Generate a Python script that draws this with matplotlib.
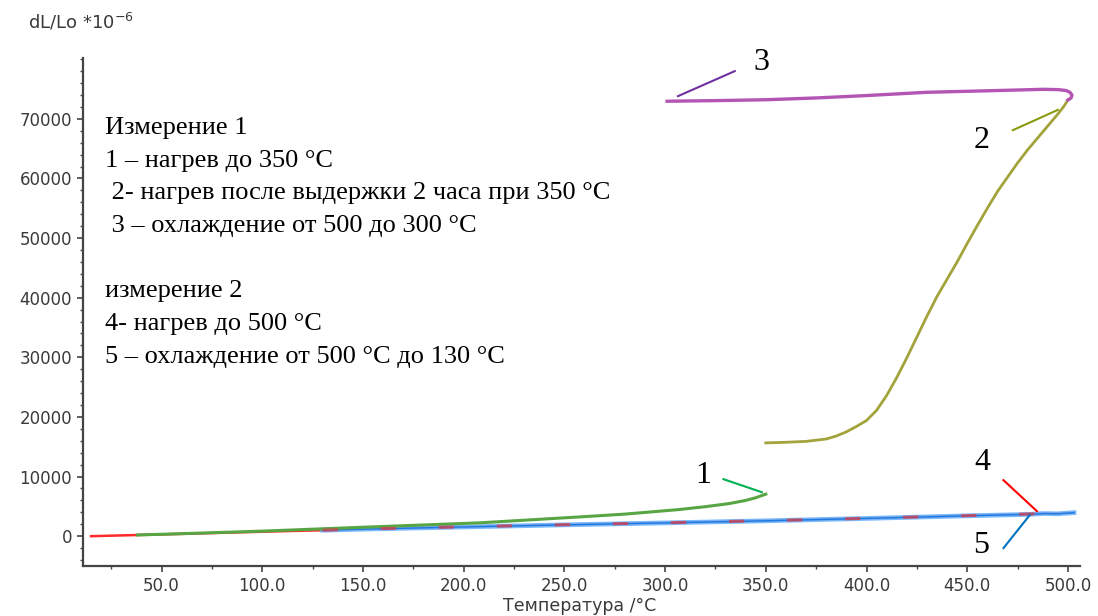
import numpy as np
import matplotlib
matplotlib.use("Agg")
import matplotlib.pyplot as plt
from matplotlib.ticker import MultipleLocator, FormatStrFormatter

# 1 - heating to 350 C
t_heat1 = [38, 60, 100, 150, 208, 258, 280, 307, 320, 332, 340, 345, 350]
d_heat1 = [200, 420, 850, 1500, 2240, 3240, 3700, 4470, 4950, 5480, 6000, 6450, 7050]

# 2 - heating after 2 h hold at 350 C
t_heat2 = [350, 360, 370, 380, 385, 390, 395, 400, 405, 410, 415, 420, 425, 430,
           435, 440, 445, 450, 455, 460, 465, 470, 475, 480, 485, 490, 495, 498, 500]
d_heat2 = [15650, 15750, 15900, 16300, 16800, 17500, 18400, 19400, 21100, 23600,
           26600, 29900, 33400, 36900, 40200, 43100, 46000, 49100, 52100, 55000,
           57800, 60200, 62600, 64800, 66800, 68800, 70800, 72100, 73150]

# 3 - cooling 500 -> 300 C
t_cool3 = [500, 501.6, 502, 501, 499, 495, 488, 460, 430, 400, 375, 350, 325, 301]
d_cool3 = [73150, 73500, 74000, 74450, 74750, 74900, 74950, 74700, 74450, 73900,
           73500, 73200, 73050, 72950]

# 4 - heating to 500 C (measurement 2)
t_heat4 = [15, 50, 100, 130, 150, 200, 250, 300, 350, 400, 450, 500, 503]
d_heat4 = [0, 300, 750, 1000, 1200, 1570, 1920, 2250, 2600, 3000, 3450, 3900, 3950]

# 5 - cooling 500 -> 130 C
t_cool5 = [503, 495, 488, 480, 450, 400, 350, 300, 250, 200, 150, 130]
d_cool5 = [3950, 3750, 3800, 3650, 3420, 2980, 2580, 2230, 1900, 1550, 1180, 1000]

text_lines = [
    "Измерение 1",
    "1 – нагрев до 350 °С",
    " 2- нагрев после выдержки 2 часа при 350 °С",
    " 3 – охлаждение от 500 до 300 °С",
    "",
    "измерение 2",
    "4- нагрев до 500 °С",
    "5 – охлаждение от 500 °С до 130 °С",
]

# curve number, label position, leader line (T, value) pairs, leader colour
markers = [
    ("1", (319, 10100), [(329, 9560), (348, 7380)], "#00b050"),
    ("2", (457, 66400), [(472.7, 68100), (495, 71500)], "#8a9a10"),
    ("3", (348, 79500), [(306.4, 73800), (334.6, 78000)], "#7030a0"),
    ("4", (457.5, 12400), [(468, 9400), (484.6, 4200)], "#ff0000"),
    ("5", (457, -1500), [(468, -2000), (481, 3520)], "#0070c0"),
]

fig = plt.figure(figsize=(10.98, 6.16), dpi=100)
ax = fig.add_axes([83 / 1098, 1 - 566 / 616, (1080 - 83) / 1098, (566 - 58) / 616])

# curves
ax.plot(t_heat4, d_heat4, color="#ff2a2a", lw=1.8, zorder=2)
ax.plot(t_cool5, d_cool5, color="#6ab4ff", lw=3.4, alpha=0.9, zorder=3)
ax.plot(t_cool5, d_cool5, color="#1f7ae0", lw=1.0, zorder=4)
t4 = np.array(t_heat4)
sel = t4 >= 130
ax.plot(t4[sel], np.array(d_heat4)[sel], color="#d04050", lw=2.2,
        dashes=(5, 14), alpha=0.8, zorder=5)
ax.plot(t_heat1, d_heat1, color="#58a544", lw=2.2, zorder=4)
ax.plot(t_heat2, d_heat2, color="#a3a33c", lw=2.0, zorder=4)
ax.plot(t_cool3, d_cool3, color="#b455b4", lw=2.4, zorder=4)

# curve numbers with leader lines
for num, pos, seg, col in markers:
    xs = [p[0] for p in seg]
    ys = [p[1] for p in seg]
    ax.plot(xs, ys, color=col, lw=1.5, clip_on=False, zorder=6)
    ax.text(pos[0], pos[1], num, family="Liberation Serif", fontsize=23,
            ha="center", va="center", clip_on=False)

# axes styling
ax.set_xlim(11, 506)
ax.set_ylim(-5000, 80200)
for s in ["top", "right"]:
    ax.spines[s].set_visible(False)
for s in ["left", "bottom"]:
    ax.spines[s].set_color("#444444")
    ax.spines[s].set_linewidth(1.6)

ax.xaxis.set_minor_locator(MultipleLocator(25))
ax.xaxis.set_major_formatter(FormatStrFormatter("%.1f"))
ax.set_xticks([50, 100, 150, 200, 250, 300, 350, 400, 450, 500])
ax.yaxis.set_minor_locator(MultipleLocator(2000))
ax.set_yticks([0, 10000, 20000, 30000, 40000, 50000, 60000, 70000])
ax.tick_params(which="major", length=4, width=1.2, color="#444444",
               labelsize=12, labelcolor="#3a3a3a", pad=4)
ax.tick_params(which="minor", length=2.5, width=1.0, color="#444444")
for lab in ax.get_xticklabels() + ax.get_yticklabels():
    lab.set_family("DejaVu Sans")

fig.text(28 / 1098, 1 - 29 / 616, r"dL/Lo *10$^{\mathregular{-6}}$", fontsize=13,
         color="#3a3a3a", family="DejaVu Sans", ha="left", va="baseline")
fig.text(580 / 1098, 1 - 597 / 616, "Температура /°C", fontsize=12.5,
         color="#3a3a3a", family="DejaVu Sans", ha="center", va="top")

# description block
y0 = 134
for i, line in enumerate(text_lines):
    if line:
        fig.text(105 / 1098, 1 - (y0 + i * 32.7) / 616, line,
                 family="Liberation Serif", fontsize=19, ha="left", va="baseline")

fig.savefig("out.png", dpi=100)
